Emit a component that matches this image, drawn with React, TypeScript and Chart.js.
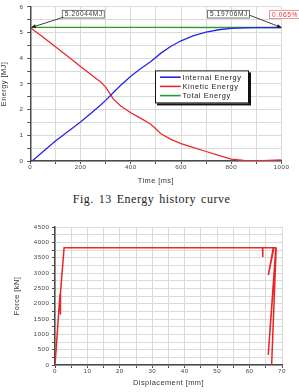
import React, { useEffect, useRef } from "react";
import { Chart, registerables } from "chart.js";

Chart.register(...registerables);

// ---- Energy history (time in ms, energy in MJ) ----
const timeMs = [0, 10, 50, 100, 150, 200, 250, 280, 300, 330, 360, 400, 440, 480, 520, 560, 600, 650, 700, 750, 800, 850, 900, 950, 1000];
const internalEnergyMJ = [0, 0.02, 0.36, 0.78, 1.15, 1.52, 1.93, 2.18, 2.36, 2.66, 2.95, 3.3, 3.6, 3.87, 4.2, 4.47, 4.68, 4.88, 5.02, 5.11, 5.16, 5.185, 5.193, 5.196, 5.197];
const kineticEnergyMJ = [5.2, 5.12, 4.83, 4.45, 4.07, 3.68, 3.3, 3.08, 2.88, 2.42, 2.14, 1.88, 1.66, 1.43, 1.06, 0.84, 0.68, 0.52, 0.37, 0.22, 0.07, 0.02, 0.0, 0.02, 0.04];
const totalTimeMs = [0, 250, 500, 750, 1000];
const totalEnergyMJ = [5.20044, 5.2, 5.199, 5.198, 5.19706];
const energySeriesLabels = ["Internal Energy", "Kinetic Energy", "Total Energy"];
const energySeriesColors = ["#2626e4", "#e82a2a", "#2e9a2e"];
const startEnergyLabel = "5.20044MJ";
const endEnergyLabel = "5.19706MJ";
const energyLossLabel = "0.065%";
const figureCaption = "Fig. 13 Energy history curve";

// ---- Force vs displacement ----
const displacementMm = [0, 1.55, 1.62, 1.75, 2.8, 64.0, 64.05, 64.1, 67.3, 65.8, 67.5, 68.1, 65.75, 68.2, 66.8];
const forceKN = [0, 2320, 1650, 2350, 3820, 3820, 3520, 3820, 3820, 2930, 3820, 3820, 330, 3820, 0];

const SANS = '"Liberation Sans", Arial, sans-serif';
const TICK_FONT = { family: SANS, size: 6.2, lineHeight: 1 };
const TITLE_FONT = { family: SANS, size: 7.4, lineHeight: 1.2 };
const GRID_COLOR = "#dadada";
const AXIS_COLOR = "#4a4a4a";

// Spread the glyphs a little, like the plotting program's axis text.
const spacedText = {
  id: "spacedText",
  beforeDraw(chart: any) {
    chart.ctx.letterSpacing = "0.45px";
  },
};

function drawArrow(ctx: CanvasRenderingContext2D, x0: number, y0: number, x1: number, y1: number) {
  const ang = Math.atan2(y1 - y0, x1 - x0);
  const len = 4.5;
  const hw = 1.8;
  ctx.strokeStyle = "#111";
  ctx.fillStyle = "#111";
  ctx.lineWidth = 0.8;
  ctx.beginPath();
  ctx.moveTo(x0, y0);
  ctx.lineTo(x1 - Math.cos(ang) * len, y1 - Math.sin(ang) * len);
  ctx.stroke();
  ctx.beginPath();
  ctx.moveTo(x1, y1);
  ctx.lineTo(x1 - Math.cos(ang) * len - Math.sin(ang) * hw, y1 - Math.sin(ang) * len + Math.cos(ang) * hw);
  ctx.lineTo(x1 - Math.cos(ang) * len + Math.sin(ang) * hw, y1 - Math.sin(ang) * len - Math.cos(ang) * hw);
  ctx.closePath();
  ctx.fill();
}

function drawTag(ctx: CanvasRenderingContext2D, x: number, y: number, w: number, h: number, border: string, color: string, text: string) {
  ctx.fillStyle = "#fff";
  ctx.fillRect(x, y, w, h);
  ctx.strokeStyle = border;
  ctx.lineWidth = 1;
  ctx.strokeRect(x + 0.5, y + 0.5, w - 1, h - 1);
  ctx.fillStyle = color;
  ctx.textAlign = "left";
  ctx.textBaseline = "middle";
  ctx.fillText(text, x + 3, y + h / 2 + 0.3);
}

// Callouts for the first/last total energy and the in-plot legend box.
const energyNotes = {
  id: "energyNotes",
  afterDraw(chart: any) {
    const { ctx, chartArea: a } = chart;
    const xs = chart.scales.x;
    const ys = chart.scales.y;
    const n = totalTimeMs.length - 1;
    const start = { x: xs.getPixelForValue(totalTimeMs[0]), y: ys.getPixelForValue(totalEnergyMJ[0]) };
    const end = { x: xs.getPixelForValue(totalTimeMs[n]), y: ys.getPixelForValue(totalEnergyMJ[n]) };

    ctx.save();
    ctx.letterSpacing = "0.6px";
    ctx.font = `6.6px ${SANS}`;
    const top = a.top + 3;
    const h = 8.6;

    const w1 = ctx.measureText(startEnergyLabel).width + 5;
    const b1x = a.left + 31.5;
    drawTag(ctx, b1x, top, w1, h, "#777", "#333", startEnergyLabel);
    drawArrow(ctx, b1x + 1.5, top + h - 1.2, start.x + 1, start.y);

    const w2 = ctx.measureText(endEnergyLabel).width + 5;
    const b2r = a.right - 31.5;
    drawTag(ctx, b2r - w2, top, w2, h, "#777", "#333", endEnergyLabel);
    drawArrow(ctx, b2r - 0.5, top + h / 2 + 1, end.x, end.y);

    const w3 = ctx.measureText(energyLossLabel).width + 6;
    drawTag(ctx, b2r + 19, top, w3, h + 0.5, "#e39a9a", "#e83030", energyLossLabel);

    // legend
    const lx = a.left + 124.7;
    const ly = a.top + 63.5;
    const lw = 94;
    const lh = 33;
    ctx.fillStyle = "#111";
    ctx.fillRect(lx + 2, ly + 2, lw, lh);
    ctx.fillStyle = "#fff";
    ctx.fillRect(lx, ly, lw, lh);
    ctx.strokeStyle = "#111";
    ctx.lineWidth = 1;
    ctx.strokeRect(lx + 0.5, ly + 0.5, lw - 1, lh - 1);
    ctx.font = `7.4px ${SANS}`;
    ctx.letterSpacing = "0.6px";
    chart.data.datasets.forEach((ds: any, i: number) => {
      const ry = ly + 6.8 + i * 9.2;
      ctx.strokeStyle = ds.borderColor;
      ctx.lineWidth = 1.6;
      ctx.beginPath();
      ctx.moveTo(lx + 5, ry);
      ctx.lineTo(lx + 25.7, ry);
      ctx.stroke();
      ctx.fillStyle = "#222";
      ctx.textAlign = "left";
      ctx.textBaseline = "middle";
      ctx.fillText(ds.label, lx + 27.5, ry + 0.4);
    });
    ctx.restore();
  },
};

function axisStyle(tickLength: number) {
  return {
    grid: { color: GRID_COLOR, lineWidth: 1, drawTicks: true, tickLength, tickColor: AXIS_COLOR, tickWidth: 1 },
    border: { display: true, color: AXIS_COLOR, width: 1.5 },
  };
}

function EnergyChart() {
  const ref = useRef<HTMLCanvasElement>(null);
  useEffect(() => {
    const series = [internalEnergyMJ, kineticEnergyMJ];
    const datasets: any[] = series.map((vals, i) => ({
      label: energySeriesLabels[i],
      data: timeMs.map((t, k) => ({ x: t, y: vals[k] })),
      borderColor: energySeriesColors[i],
      borderWidth: 1.3,
      pointRadius: 0,
      tension: 0,
    }));
    datasets.push({
      label: energySeriesLabels[2],
      data: totalTimeMs.map((t, k) => ({ x: t, y: totalEnergyMJ[k] })),
      borderColor: energySeriesColors[2],
      borderWidth: 1.3,
      pointRadius: 0,
      tension: 0,
    });
    const chart = new Chart(ref.current!, {
      type: "line",
      data: { datasets },
      options: {
        responsive: false,
        animation: false,
        events: [],
        layout: { padding: { left: 0, right: 17.5, top: 5, bottom: 0 } },
        plugins: { legend: { display: false }, tooltip: { enabled: false } },
        scales: {
          x: {
            type: "linear",
            min: 0,
            max: 1000,
            afterFit: (s: any) => { s.height = 29; },
            ticks: {
              stepSize: 100,
              autoSkip: false,
              maxRotation: 0,
              padding: 0,
              font: TICK_FONT,
              color: "#444",
              callback: (v: any) => (v % 200 === 0 ? String(v) : ""),
            },
            ...axisStyle(3),
            title: { display: true, text: "Time [ms]", font: TITLE_FONT, color: "#333", padding: { top: 0, bottom: 4.9 } },
          },
          y: {
            type: "linear",
            min: 0,
            max: 6,
            afterFit: (s: any) => { s.width = 30.3; },
            ticks: {
              stepSize: 0.5,
              autoSkip: false,
              padding: 3.8,
              font: TICK_FONT,
              color: "#444",
              callback: (v: any) => (Number.isInteger(v) ? String(v) : ""),
            },
            ...axisStyle(3),
            title: { display: true, text: "Energy [MJ]", font: TITLE_FONT, color: "#333", padding: { top: 0, bottom: 0 } },
          },
        },
      } as any,
      plugins: [spacedText, energyNotes],
    });
    return () => chart.destroy();
  }, []);
  return (
    <canvas
      ref={ref}
      width={299}
      height={190}
      style={{ position: "absolute", left: 0, top: 0, width: 299, height: 190 }}
    />
  );
}

function ForceChart() {
  const ref = useRef<HTMLCanvasElement>(null);
  useEffect(() => {
    const chart = new Chart(ref.current!, {
      type: "scatter",
      data: {
        datasets: [
          {
            label: "Force",
            data: displacementMm.map((d, k) => ({ x: d, y: forceKN[k] })),
            showLine: true,
            borderColor: "#e82626",
            borderWidth: 1.5,
            pointRadius: 0,
            tension: 0,
          },
        ],
      },
      options: {
        responsive: false,
        animation: false,
        events: [],
        layout: { padding: { left: 0, right: 17, top: 19, bottom: 0 } },
        plugins: { legend: { display: false }, tooltip: { enabled: false } },
        scales: {
          x: {
            type: "linear",
            min: 0,
            max: 70,
            afterFit: (s: any) => { s.height = 27; },
            ticks: {
              stepSize: 5,
              autoSkip: false,
              maxRotation: 0,
              padding: 0.5,
              font: TICK_FONT,
              color: "#444",
              callback: (v: any) => (v % 10 === 0 ? String(v) : ""),
            },
            ...axisStyle(3),
            title: { display: true, text: "Displacement [mm]", font: TITLE_FONT, color: "#333", padding: { top: 0, bottom: 4.6 } },
          },
          y: {
            type: "linear",
            min: 0,
            max: 4500,
            afterFit: (s: any) => { s.width = 55; },
            ticks: {
              stepSize: 250,
              autoSkip: false,
              padding: 2.7,
              font: TICK_FONT,
              color: "#444",
              callback: (v: any) => (v % 500 === 0 ? String(v) : ""),
            },
            ...axisStyle(3),
            title: { display: true, text: "Force [kN]", font: TITLE_FONT, color: "#333", padding: { top: 12.5, bottom: 0 } },
          },
        },
      } as any,
      plugins: [spacedText],
    });
    return () => chart.destroy();
  }, []);
  return (
    <canvas
      ref={ref}
      width={299}
      height={184}
      style={{ position: "absolute", left: 0, top: 208, width: 299, height: 184 }}
    />
  );
}

export default function App() {
  return (
    <div style={{ position: "absolute", left: 0, top: 0, width: 299, height: 392, background: "#fff", overflow: "hidden" }}>
      <EnergyChart />
      <div
        style={{
          position: "absolute",
          left: 2,
          top: 191,
          width: 299,
          textAlign: "center",
          font: '12px "Liberation Serif", "DejaVu Serif", serif',
          letterSpacing: "0.5px",
          wordSpacing: "1.5px",
          lineHeight: "16px",
          color: "#222",
          whiteSpace: "nowrap",
        }}
      >
        {figureCaption}
      </div>
      <ForceChart />
    </div>
  );
}
